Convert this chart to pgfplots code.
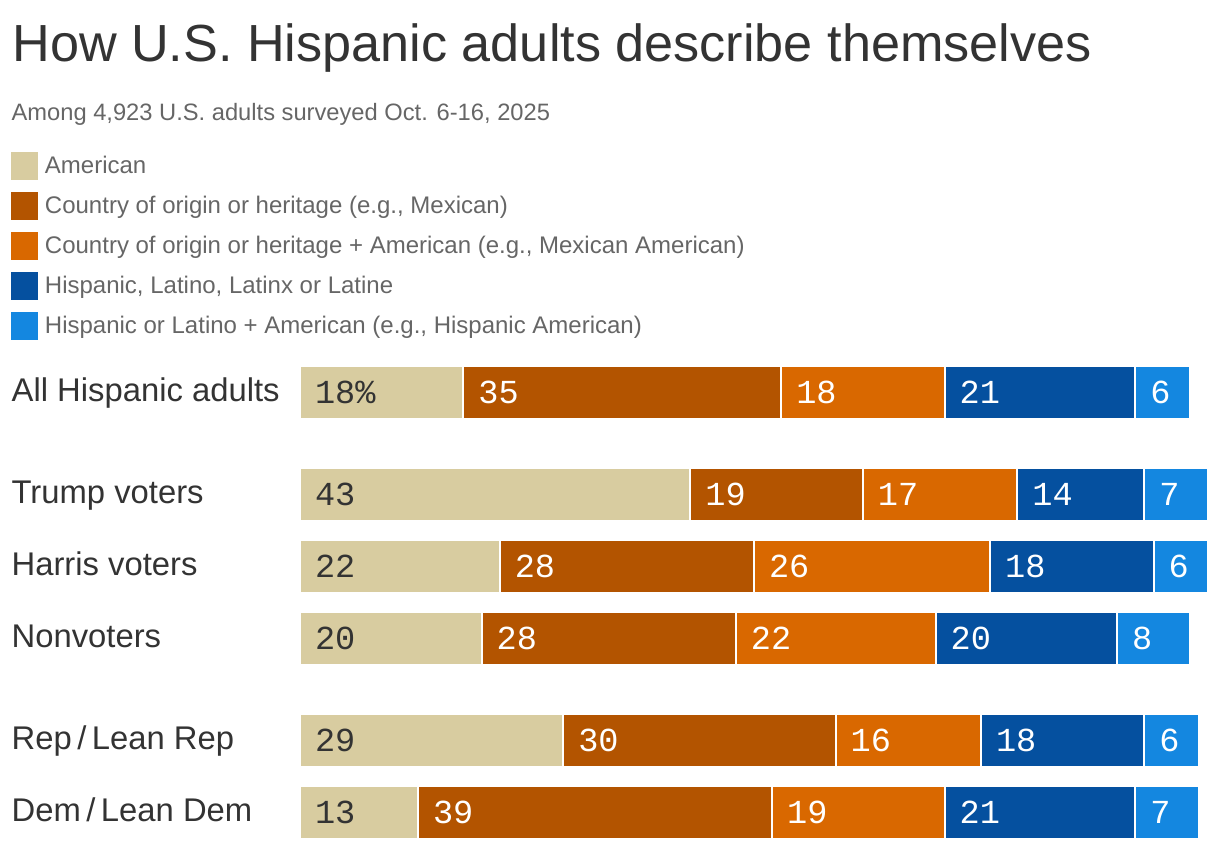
\documentclass[border=0pt]{standalone}
\usepackage{pgfplots}
\pgfplotsset{compat=1.18}
\usepackage{pgfplotstable}
\usepackage{fontspec}
\setmainfont{Liberation Sans}
\newfontfamily\monofont{Liberation Mono}
\definecolor{cAm}{HTML}{D8CCA0}
\definecolor{cCo}{HTML}{B35400}
\definecolor{cCA}{HTML}{D96800}
\definecolor{cHi}{HTML}{05509F}
\definecolor{cHA}{HTML}{1487E0}
\definecolor{txtdark}{HTML}{333333}
\definecolor{txtgray}{HTML}{666666}

\pgfplotstableread{
y v lab
392 18 18\%
494 43 43
566 22 22
638 20 20
740 29 29
812 13 13
}\tAm
\pgfplotstableread{
y v lab
392 35 35
494 19 19
566 28 28
638 28 28
740 30 30
812 39 39
}\tCo
\pgfplotstableread{
y v lab
392 18 18
494 17 17
566 26 26
638 22 22
740 16 16
812 19 19
}\tCA
\pgfplotstableread{
y v lab
392 21 21
494 14 14
566 18 18
638 20 20
740 18 18
812 21 21
}\tHi
\pgfplotstableread{
y v lab
392 6 6
494 7 7
566 6 6
638 8 8
740 6 6
812 7 7
}\tHA

\tikzset{rowlab/.style={anchor=base west, inner sep=0pt, font=\fontsize{16.4}{16.4}\selectfont, text=txtdark}}

\begin{document}
\begin{tikzpicture}
\begin{axis}[
  scale only axis, width=454pt, height=254pt,
  xmin=0, xmax=100, ymin=340, ymax=848, y dir=reverse,
  axis lines=none, xtick=\empty, ytick=\empty,
  xbar stacked, bar width=53, clip=false,
  point meta=explicit symbolic,
  visualization depends on={rawx \as \segv},
  nodes near coords={\pgfplotspointmeta},
  every node near coord/.append style={anchor=west, inner sep=0pt,
    xshift={-\segv*2.27pt+7pt}, font=\monofont\fontsize{16.8}{16.8}\selectfont, text=white},
  legend image code/.code={\fill[#1,draw=none] (0pt,-7pt) rectangle (13.5pt,7pt);},
  legend cell align=left,
  legend style={at={(axis cs:-31.83,152)}, anchor=north west, draw=none, fill=none,
    inner sep=0pt, outer sep=0pt, row sep=6pt, column sep=3.5pt,
    font=\fontsize{12}{14}\selectfont, text=txtgray,
    nodes={inner sep=0pt}},
]
\addplot[fill=cAm, draw=white, line width=1pt, every node near coord/.append style={text=txtdark}] table[x=v,y=y,meta=lab]{\tAm};
\addlegendentry{American}
\addplot[fill=cCo, draw=white, line width=1pt] table[x=v,y=y,meta=lab]{\tCo};
\addlegendentry{Country of origin or heritage (e.g., Mexican)}
\addplot[fill=cCA, draw=white, line width=1pt] table[x=v,y=y,meta=lab]{\tCA};
\addlegendentry{Country of origin or heritage + American (e.g., Mexican American)}
\addplot[fill=cHi, draw=white, line width=1pt] table[x=v,y=y,meta=lab]{\tHi};
\addlegendentry{Hispanic, Latino, Latinx or Latine}
\addplot[fill=cHA, draw=white, line width=1pt] table[x=v,y=y,meta=lab]{\tHA};
\addlegendentry{Hispanic or Latino + American (e.g., Hispanic American)}

\node[anchor=base west, inner sep=0pt, font=\fontsize{26.1}{26.1}\selectfont, text=txtdark] at (axis cs:-31.72,61) {How U.S. Hispanic adults describe themselves};
\node[anchor=base west, inner sep=0pt, font=\fontsize{11.85}{11.85}\selectfont, text=txtgray] at (axis cs:-31.8,120) {Among 4,923 U.S. adults surveyed Oct. 6-16, 2025};

\node[rowlab] at (axis cs:-31.8,401.5) {All Hispanic adults};
\node[rowlab] at (axis cs:-31.8,503.5) {Trump voters};
\node[rowlab] at (axis cs:-31.8,575.5) {Harris voters};
\node[rowlab] at (axis cs:-31.8,647.5) {Nonvoters};
\node[rowlab] at (axis cs:-31.8,749.5) {Rep\,/\,Lean Rep};
\node[rowlab] at (axis cs:-31.8,821.5) {Dem\,/\,Lean Dem};
\coordinate (tl) at (axis cs:-33.04,0);
\coordinate (br) at (axis cs:101.32,848);
\end{axis}
\pgfresetboundingbox
\useasboundingbox (tl) rectangle (br);
\end{tikzpicture}
\end{document}
